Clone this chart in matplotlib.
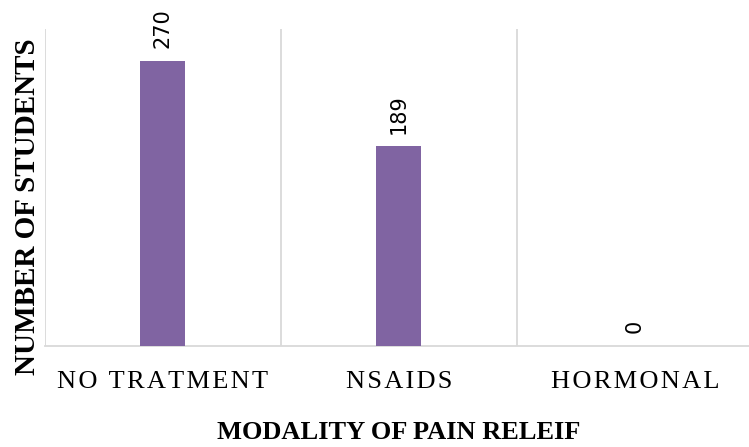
import matplotlib
matplotlib.use("Agg")
import matplotlib.pyplot as plt
import numpy as np

categories = ["NO TRATMENT", "NSAIDS", "HORMONAL"]
students = [270, 189, 0]

BAR = "#8064A2"
GRID = "#D9D9D9"


def spaced(s):
    # a little letter spacing, like the original labels
    return "\u200a".join(s)


fig = plt.figure(figsize=(7.49, 4.47), dpi=100)
ax = fig.add_axes([0.060, 0.226, 0.945, 0.709])

x = np.arange(len(categories))
bars = ax.bar(x, students, width=0.19, color=BAR, zorder=3)
for b, v in zip(bars, students):
    ax.annotate(str(v), (b.get_x() + b.get_width() / 2, v), xytext=(0, 9),
                textcoords="offset points", rotation=90, ha="center", va="bottom",
                fontsize=15, family="DejaVu Sans", color="black")

ax.set_xlim(-0.5, len(categories) - 0.5)
ax.set_ylim(0, 300)
ax.set_yticks([])
ax.set_xticks(x)
ax.set_xticklabels([spaced(c) for c in categories], family="Liberation Serif", fontsize=19)
ax.tick_params(axis="x", length=0, pad=18)
ax.set_xticks(np.arange(-0.5, len(categories)), minor=True)
ax.tick_params(axis="x", which="minor", length=0)
ax.grid(axis="x", which="minor", color=GRID, lw=1.3, zorder=0)

for s in ["top", "right"]:
    ax.spines[s].set_visible(False)
ax.spines["left"].set_visible(False)
ax.spines["bottom"].set_color(GRID)
ax.spines["bottom"].set_linewidth(1.3)

ax.set_ylabel("NUMBER OF STUDENTS", family="Liberation Serif", fontweight="bold",
              fontsize=21)
ax.yaxis.set_label_coords(-0.005, 0.44)
ax.set_xlabel("MODALITY OF PAIN RELEIF", family="Liberation Serif", fontweight="bold",
              fontsize=19, labelpad=20)

fig.savefig("out.png", dpi=100)
